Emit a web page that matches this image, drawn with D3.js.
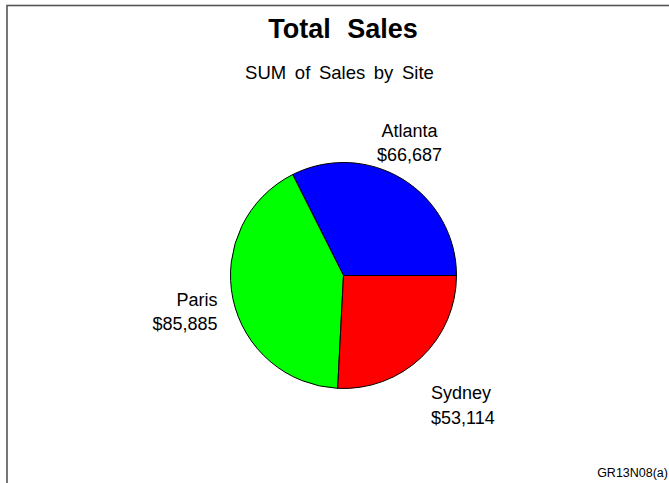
<!DOCTYPE html>
<html>
<head>
<meta charset="utf-8">
<script src="https://cdn.jsdelivr.net/npm/d3@7"></script>
<style>
  html, body { margin: 0; padding: 0; background: #fff; }
  svg { display: block; }
  text { font-family: "Liberation Sans", Arial, Helvetica, sans-serif; fill: #000; }
</style>
</head>
<body>
<script>
// Sales totals by site
const sites = ["Atlanta", "Paris", "Sydney"];
const sales = [66687, 85885, 53114];
const sliceColors = ["#0000ff", "#00ff00", "#ff0000"];

const titleText = "Total Sales";
const subtitleText = "SUM of Sales by Site";
const footnoteText = "GR13N08(a)";

const width = 669, height = 483;
const cx = 343.5, cy = 275.5, radius = 113;

const svg = d3.select("body").append("svg")
  .attr("width", width)
  .attr("height", height);

// Frame around the graph area
svg.append("rect")
  .attr("x", 7).attr("y", 5.5)
  .attr("width", width + 20).attr("height", height + 20)
  .attr("fill", "none")
  .attr("stroke", "#555")
  .attr("stroke-width", 1.6);

// Titles
svg.append("text")
  .attr("x", 343).attr("y", 38)
  .attr("text-anchor", "middle")
  .style("font-size", "27px")
  .style("font-weight", "bold")
  .style("word-spacing", "9px")
  .text(titleText);

svg.append("text")
  .attr("x", 339.5).attr("y", 78.5)
  .attr("text-anchor", "middle")
  .style("font-size", "18.5px")
  .style("word-spacing", "3.5px")
  .text(subtitleText);

// Pie, starting at 3 o'clock and running counter-clockwise
const data = sites.map((s, i) => ({ site: s, value: sales[i], color: sliceColors[i] }));

const pie = d3.pie()
  .sort(null)
  .value(d => d.value)
  .startAngle(Math.PI / 2)
  .endAngle(Math.PI / 2 - 2 * Math.PI);

const arcs = pie(data);
const arc = d3.arc().innerRadius(0).outerRadius(radius);

const g = svg.append("g").attr("transform", `translate(${cx},${cy})`);

g.selectAll("path")
  .data(arcs)
  .join("path")
  .attr("d", arc)
  .attr("fill", d => d.data.color)
  .attr("stroke", "#000")
  .attr("stroke-width", 1)
  .attr("stroke-linejoin", "round");

// Slice labels outside the pie: name above, formatted total below
const fmt = d3.format("$,");
const labelPos = {
  Atlanta: { x: 66, y: -139, anchor: "middle" },
  Paris: { x: -126, y: 30, anchor: "end" },
  Sydney: { x: 87.5, y: 123.5, anchor: "start" }
};

arcs.forEach(d => {
  const p = labelPos[d.data.site];
  const t = g.append("text")
    .attr("text-anchor", p.anchor)
    .style("font-size", "18px");
  t.append("tspan").attr("x", p.x).attr("y", p.y).text(d.data.site);
  t.append("tspan").attr("x", p.x).attr("y", p.y + 24.5).text(fmt(d.data.value));
});

// Footnote
svg.append("text")
  .attr("x", 668).attr("y", 477)
  .attr("text-anchor", "end")
  .style("font-size", "12.5px")
  .text(footnoteText);
</script>
</body>
</html>
